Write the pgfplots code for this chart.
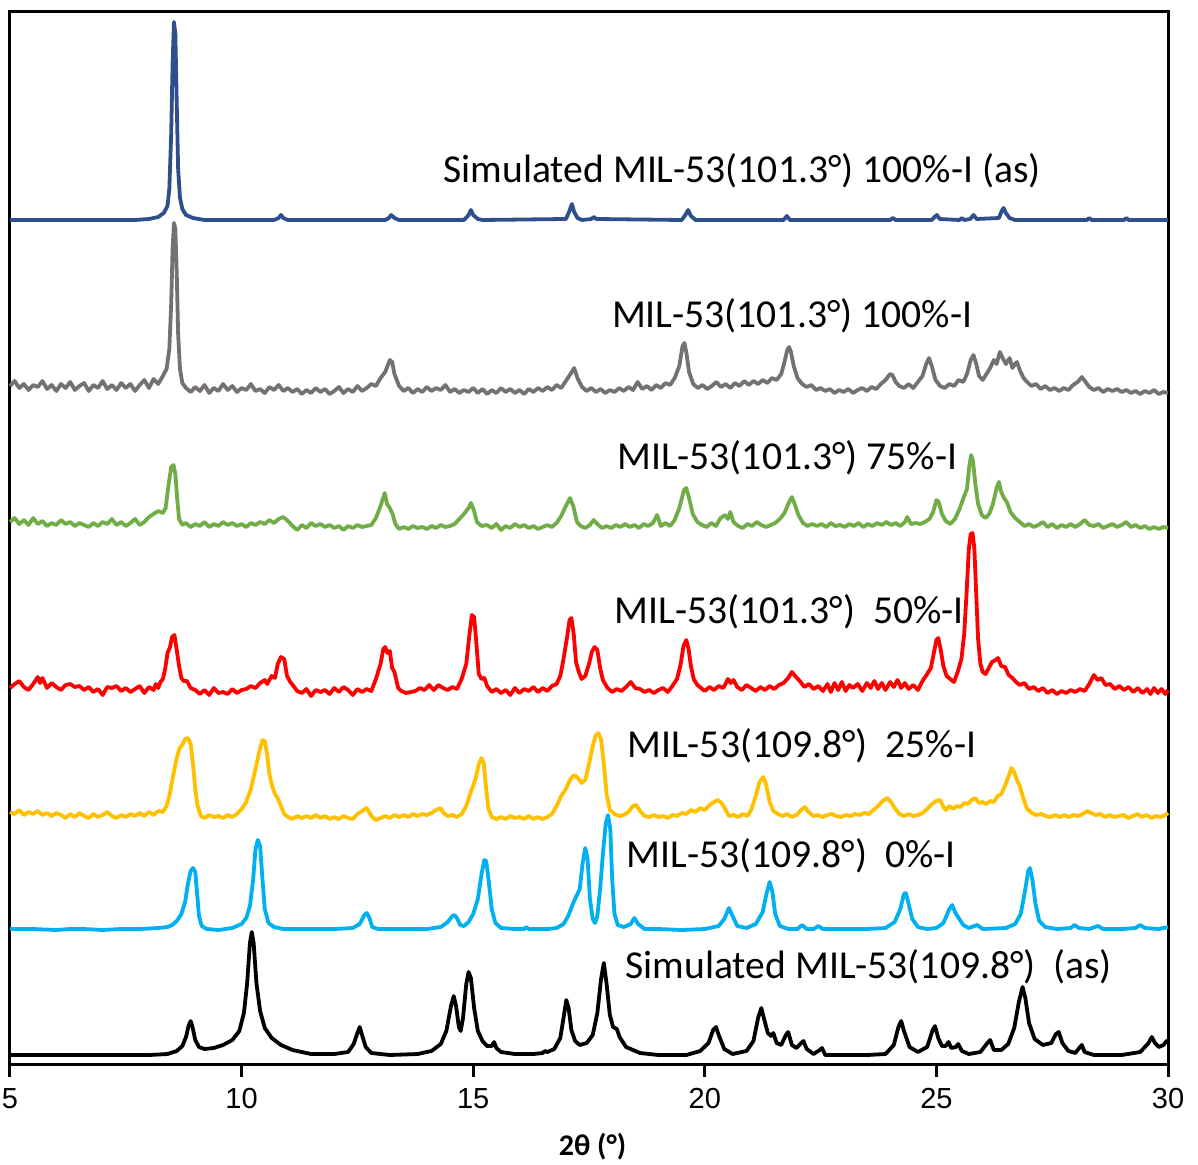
\documentclass[border=0pt]{standalone}
\usepackage{fontspec}
\setmainfont{Carlito}
\newfontfamily\tickfont{Liberation Sans}
\usepackage{pgfplots}
\pgfplotsset{compat=1.18}

\definecolor{simblue}{HTML}{2F4F8C}
\definecolor{expgrey}{HTML}{767171}
\definecolor{expgreen}{HTML}{70AD47}
\definecolor{expred}{HTML}{FF0000}
\definecolor{expyellow}{HTML}{FFC000}
\definecolor{expcyan}{HTML}{00B0F0}

\tikzset{label node/.style={anchor=base west, inner sep=0pt, font=\fontsize{19.8}{23}\selectfont}}

\begin{document}
\begin{tikzpicture}
\useasboundingbox (-5pt,-50pt) rectangle (594pt,532pt);
\begin{axis}[
  at={(0,0)}, anchor=south west,
  scale only axis, width=579pt, height=526pt,
  xmin=5, xmax=30, ymin=0, ymax=1052,
  xtick={5,10,15,20,25,30}, ytick=\empty,
  major tick length=0pt,
  axis line style={line width=1.5pt},
  clip=false,
  /pgf/number format/assume math mode=true,
  xticklabel style={font=\tickfont\fontsize{14.5}{17}\selectfont, anchor=base, inner sep=0pt, yshift=-22pt},
  xlabel={\bfseries 2θ (°)},
  xlabel style={font=\fontsize{15}{18}\selectfont, at={(axis description cs:0.503,0)}, anchor=base, yshift=-45.5pt},
  every axis plot/.append style={line width=1.9pt, line join=round, mark=none},
]

% outward tick marks on the 2theta axis
\pgfplotsinvokeforeach{5,10,15,20,25,30}{
  \draw[black, line width=1.5pt] (axis cs:#1,0) -- ([yshift=-6.5pt]axis cs:#1,0);
}

% Simulated MIL-53(101.3) 100%-I
\addplot[simblue] coordinates {
(5.0,844) (7.0,844) (7.7,844) (8.0,845) (8.2,847) (8.32,851) (8.4,858) (8.44,875) (8.48,930) (8.51,1000) (8.54,1042) (8.57,1030) (8.6,960) (8.63,895) (8.67,866) (8.72,855) (8.8,849) (8.95,846) (9.2,844)
(10.7,844) (10.8,846) (10.85,849) (10.9,846) (11.0,844) (13.1,844) (13.18,846) (13.23,849) (13.3,846) (13.4,844)
(14.8,844) (14.9,849) (14.95,854) (15.0,849) (15.1,845) (15.2,844) (17.0,845) (17.07,852) (17.13,860) (17.18,852) (17.25,846) (17.35,844)
(17.55,845) (17.6,847) (17.66,845) (19.5,844) (19.58,849) (19.64,854) (19.7,848) (19.8,844) (21.7,844) (21.77,848) (21.84,844)
(24.0,844) (24.06,846) (24.12,844) (24.9,844) (24.96,847) (25.01,849) (25.07,845) (25.5,844) (25.55,846) (25.6,844)
(25.73,845) (25.8,849) (25.87,845) (26.35,846) (26.41,853) (26.45,856) (26.5,851) (26.58,846) (26.7,844)
(28.25,844) (28.3,846) (28.35,844) (29.05,844) (29.1,846) (29.15,844) (30.0,844)
};

% MIL-53(101.3) 100%-I
\addplot[expgrey] coordinates {
(5.0,678) (5.1,683) (5.2,676) (5.3,680) (5.4,674) (5.5,679) (5.6,677) (5.7,683) (5.8,675) (5.9,679) (6.0,673) (6.1,680) (6.2,676) (6.3,682) (6.4,674) (6.5,678) (6.6,681) (6.7,673) (6.8,679) (6.9,676)
(7.0,683) (7.1,675) (7.2,679) (7.3,674) (7.4,681) (7.5,676) (7.6,680) (7.7,673) (7.8,679) (7.9,684) (8.0,676) (8.1,685) (8.2,680)
(8.3,688) (8.38,695) (8.44,715) (8.48,760) (8.51,815) (8.54,841) (8.57,835) (8.6,790) (8.63,730) (8.67,695) (8.72,681) (8.8,676) (8.9,672) (9.0,677)
(9.1,673) (9.2,679) (9.3,671) (9.4,676) (9.5,673) (9.6,680) (9.7,674) (9.8,678) (9.9,672) (10.0,676) (10.1,674) (10.2,680) (10.3,673) (10.4,675) (10.5,671) (10.6,677) (10.7,674) (10.8,679) (10.9,673)
(11.0,676) (11.1,672) (11.2,675) (11.3,670) (11.4,674) (11.5,671) (11.6,676) (11.7,672) (11.8,675) (11.9,670) (12.0,673) (12.1,677) (12.2,671) (12.3,675) (12.4,672) (12.5,678) (12.6,673) (12.7,676) (12.8,680) (12.9,678)
(13.0,686) (13.1,692) (13.2,704) (13.25,702) (13.3,690) (13.4,678) (13.5,673) (13.6,676) (13.7,671) (13.8,675) (13.9,672) (14.0,677) (14.1,673) (14.2,676) (14.3,674) (14.4,679) (14.5,672) (14.6,675) (14.7,671) (14.8,674) (14.9,672)
(15.0,676) (15.1,671) (15.2,675) (15.3,670) (15.4,674) (15.5,671) (15.6,676) (15.7,672) (15.8,675) (15.9,671) (16.0,674) (16.1,670) (16.2,675) (16.3,672) (16.4,676) (16.5,673) (16.6,677) (16.7,674) (16.8,679) (16.9,676)
(17.0,683) (17.1,690) (17.18,696) (17.25,686) (17.35,677) (17.45,673) (17.55,676) (17.65,672) (17.75,675) (17.85,671) (17.95,674) (18.05,672) (18.15,676) (18.25,673) (18.35,677) (18.45,674) (18.55,682) (18.65,675) (18.75,678) (18.85,674) (18.95,679)
(19.05,676) (19.15,681) (19.25,679) (19.35,686) (19.45,698) (19.52,718) (19.56,721) (19.6,712) (19.66,692) (19.75,680) (19.85,676) (19.95,679) (20.05,675) (20.15,678) (20.25,682) (20.35,677) (20.45,680) (20.55,676) (20.65,681) (20.75,678) (20.85,683) (20.95,679)
(21.05,683) (21.15,680) (21.25,684) (21.35,681) (21.45,686) (21.55,684) (21.65,690) (21.72,702) (21.78,714) (21.82,717) (21.86,712) (21.92,698) (22.0,686) (22.1,680) (22.2,677) (22.3,679) (22.4,674) (22.5,676) (22.6,673) (22.7,675) (22.8,671) (22.9,674)
(23.0,672) (23.1,675) (23.2,671) (23.3,674) (23.4,676) (23.5,673) (23.6,677) (23.7,675) (23.8,680) (23.9,684) (24.0,690) (24.05,689) (24.12,682) (24.2,678) (24.3,676) (24.4,680) (24.5,676) (24.6,682) (24.7,688) (24.78,700) (24.84,706) (24.9,698) (24.98,684)
(25.08,678) (25.18,676) (25.28,680) (25.38,678) (25.48,684) (25.58,682) (25.66,690) (25.74,704) (25.8,709) (25.86,700) (25.92,688) (26.0,684) (26.08,690) (26.16,696) (26.24,704) (26.3,700) (26.37,712) (26.43,706) (26.5,700) (26.58,706) (26.64,696) (26.7,700) (26.74,702) (26.8,694) (26.88,686) (26.96,682)
(27.05,678) (27.15,680) (27.25,675) (27.35,678) (27.45,674) (27.55,676) (27.65,673) (27.75,676) (27.85,674) (27.95,679) (28.05,682) (28.14,687) (28.22,682) (28.3,677) (28.4,674) (28.5,676) (28.6,672) (28.7,675) (28.8,673) (28.9,675)
(29.0,672) (29.1,674) (29.2,671) (29.3,673) (29.4,670) (29.5,673) (29.6,671) (29.7,674) (29.8,670) (29.9,672) (30.0,671)
};

% MIL-53(101.3) 75%-I
\addplot[expgreen] coordinates {
(5.0,542) (5.1,546) (5.2,540) (5.3,544) (5.4,539) (5.5,546) (5.6,540) (5.7,543) (5.8,538) (5.9,541) (6.0,539) (6.1,544) (6.2,540) (6.3,542) (6.4,538) (6.5,541) (6.6,539) (6.7,537) (6.8,541) (6.9,538)
(7.0,542) (7.1,540) (7.2,545) (7.3,539) (7.4,542) (7.5,538) (7.6,541) (7.7,545) (7.8,539) (7.9,542) (8.0,547) (8.1,550) (8.2,553) (8.3,551) (8.36,556) (8.42,578) (8.48,597) (8.53,599) (8.57,590) (8.61,565) (8.65,545) (8.72,539) (8.8,541) (8.9,537)
(9.0,540) (9.1,538) (9.2,542) (9.3,537) (9.4,540) (9.5,538) (9.6,542) (9.7,539) (9.8,541) (9.9,538) (10.0,540) (10.1,537) (10.2,541) (10.3,539) (10.4,542) (10.5,540) (10.6,544) (10.7,541) (10.8,545) (10.9,547)
(11.0,543) (11.1,538) (11.2,534) (11.3,539) (11.4,536) (11.5,541) (11.6,538) (11.7,540) (11.8,537) (11.9,539) (12.0,536) (12.1,538) (12.2,534) (12.3,538) (12.4,536) (12.5,539) (12.6,537) (12.7,538) (12.8,539) (12.9,546)
(13.0,558) (13.09,571) (13.14,560) (13.2,556) (13.26,550) (13.32,540) (13.4,535) (13.5,537) (13.6,535) (13.7,538) (13.8,536) (13.9,537) (14.0,535) (14.1,538) (14.2,536) (14.3,539) (14.4,537) (14.5,538) (14.6,540) (14.7,545) (14.8,550) (14.9,556) (14.95,561)
(15.02,553) (15.08,542) (15.18,538) (15.3,539) (15.4,536) (15.5,540) (15.6,534) (15.7,538) (15.8,536) (15.9,540) (16.0,537) (16.1,539) (16.2,536) (16.3,538) (16.4,535) (16.5,537) (16.6,539) (16.7,537) (16.8,541) (16.9,548)
(17.0,558) (17.09,566) (17.16,558) (17.24,542) (17.32,538) (17.42,536) (17.52,539) (17.6,544) (17.68,540) (17.78,536) (17.88,538) (17.98,536) (18.08,539) (18.18,537) (18.28,540) (18.38,537) (18.48,539) (18.58,536) (18.68,540) (18.78,538) (18.88,541) (18.97,549)
(19.05,538) (19.15,541) (19.25,538) (19.35,544) (19.45,556) (19.55,574) (19.6,576) (19.66,566) (19.74,550) (19.84,542) (19.94,539) (20.04,537) (20.14,541) (20.24,538) (20.34,546) (20.44,549) (20.5,545) (20.55,552) (20.62,542) (20.72,538) (20.82,536) (20.92,540)
(21.02,538) (21.12,542) (21.22,539) (21.32,537) (21.42,539) (21.52,541) (21.62,545) (21.72,551) (21.82,562) (21.88,567) (21.94,560) (22.02,549) (22.12,541) (22.22,538) (22.32,540) (22.42,538) (22.52,540) (22.62,537) (22.72,541) (22.82,538) (22.92,539)
(23.02,537) (23.12,540) (23.22,538) (23.32,541) (23.42,537) (23.52,540) (23.62,538) (23.72,541) (23.82,539) (23.92,542) (24.02,539) (24.12,541) (24.22,538) (24.32,542) (24.37,547) (24.45,540) (24.55,541) (24.65,540) (24.75,542) (24.85,545) (24.93,552)
(25.0,564) (25.05,562) (25.12,550) (25.2,543) (25.3,540) (25.4,545) (25.5,555) (25.6,568) (25.66,575) (25.71,598) (25.75,609) (25.79,603) (25.84,580) (25.9,560) (25.98,549) (26.06,546) (26.14,550) (26.22,560) (26.3,576) (26.35,582) (26.4,572) (26.46,566) (26.52,562) (26.6,552) (26.7,546) (26.8,542) (26.9,538)
(27.0,540) (27.1,537) (27.2,539) (27.3,542) (27.4,537) (27.5,540) (27.6,536) (27.7,539) (27.8,537) (27.9,540) (28.0,537) (28.1,540) (28.2,544) (28.3,539) (28.4,538) (28.5,540) (28.6,536) (28.7,538) (28.8,540) (28.9,537)
(29.0,539) (29.1,542) (29.2,537) (29.3,539) (29.4,536) (29.5,538) (29.6,535) (29.7,537) (29.8,535) (29.9,537) (30.0,536)
};

% MIL-53(101.3) 50%-I
\addplot[expred] coordinates {
(5.0,376) (5.1,380) (5.2,383) (5.3,377) (5.4,374) (5.5,380) (5.6,387) (5.65,381) (5.7,386) (5.8,376) (5.9,381) (6.0,377) (6.1,374) (6.2,379) (6.3,380) (6.4,377) (6.5,378) (6.6,374) (6.7,377) (6.8,372) (6.9,375)
(7.0,369) (7.1,377) (7.2,376) (7.3,378) (7.4,373) (7.5,376) (7.6,372) (7.7,375) (7.8,378) (7.9,371) (8.0,377) (8.1,374) (8.15,380) (8.2,376) (8.25,382) (8.3,385) (8.35,395) (8.4,411) (8.45,416) (8.5,427) (8.55,429) (8.6,414) (8.65,398) (8.7,386) (8.75,383) (8.82,383) (8.9,376)
(9.0,374) (9.1,370) (9.2,374) (9.3,369) (9.4,376) (9.5,371) (9.6,372) (9.7,370) (9.8,375) (9.9,371) (10.0,374) (10.1,375) (10.2,378) (10.3,376) (10.4,381) (10.5,384) (10.55,380) (10.65,388) (10.72,386) (10.78,400) (10.85,407) (10.92,405) (10.98,388)
(11.05,382) (11.12,378) (11.2,373) (11.3,371) (11.4,375) (11.5,368) (11.6,374) (11.7,372) (11.8,374) (11.9,370) (12.0,376) (12.1,372) (12.2,377) (12.3,374) (12.4,369) (12.5,375) (12.6,372) (12.7,375) (12.8,373) (12.9,385)
(13.0,400) (13.06,415) (13.1,417) (13.15,411) (13.2,413) (13.25,396) (13.3,392) (13.38,376) (13.45,373) (13.55,371) (13.65,372) (13.75,373) (13.85,376) (13.95,374) (14.05,379) (14.15,374) (14.25,379) (14.35,376) (14.45,374) (14.55,377) (14.65,375) (14.75,385) (14.85,400) (14.92,430) (14.97,449)
(15.02,447) (15.07,420) (15.12,390) (15.18,385) (15.24,386) (15.3,378) (15.4,372) (15.5,375) (15.6,371) (15.7,374) (15.8,369) (15.9,376) (16.0,371) (16.1,375) (16.2,373) (16.3,377) (16.4,372) (16.5,376) (16.6,373) (16.7,378) (16.8,380) (16.88,388) (16.95,405)
(17.02,425) (17.08,444) (17.12,446) (17.17,430) (17.22,402) (17.28,392) (17.34,385) (17.42,388) (17.5,400) (17.56,412) (17.62,417) (17.68,414) (17.74,396) (17.8,384) (17.9,376) (18.0,372) (18.1,375) (18.2,373) (18.3,377) (18.4,382) (18.5,376) (18.6,375) (18.7,372) (18.8,374) (18.9,371)
(19.0,374) (19.1,376) (19.2,372) (19.3,378) (19.4,385) (19.48,400) (19.54,418) (19.6,424) (19.65,415) (19.7,398) (19.76,385) (19.84,379) (19.92,376) (20.0,373) (20.1,377) (20.2,374) (20.3,378) (20.4,376) (20.5,385) (20.56,381) (20.62,384) (20.7,377) (20.8,374) (20.9,379)
(21.0,376) (21.1,373) (21.2,377) (21.3,374) (21.4,378) (21.5,375) (21.6,379) (21.7,381) (21.8,386) (21.88,392) (21.95,388) (22.05,383) (22.15,377) (22.25,380) (22.35,375) (22.45,378) (22.55,373) (22.65,380) (22.72,372) (22.8,381) (22.88,374) (22.96,382)
(23.04,373) (23.12,379) (23.2,376) (23.3,380) (23.4,373) (23.5,381) (23.58,376) (23.66,383) (23.74,375) (23.82,381) (23.9,374) (24.0,382) (24.08,377) (24.16,384) (24.24,376) (24.32,381) (24.4,375) (24.5,379) (24.6,374) (24.7,383) (24.8,390) (24.88,396) (24.94,410)
(25.0,424) (25.04,426) (25.09,415) (25.15,398) (25.22,388) (25.3,385) (25.38,382) (25.46,392) (25.54,405) (25.6,430) (25.65,470) (25.7,515) (25.74,530) (25.78,531) (25.82,515) (25.86,470) (25.9,425) (25.95,400)
(26.0,392) (26.06,390) (26.12,395) (26.2,402) (26.28,404) (26.33,406) (26.4,398) (26.48,397) (26.56,389) (26.64,386) (26.72,382) (26.8,379) (26.9,381) (27.0,375) (27.1,377) (27.2,373) (27.3,376) (27.4,371) (27.5,374) (27.6,370) (27.7,373) (27.8,371) (27.9,374)
(28.0,372) (28.1,375) (28.2,373) (28.3,380) (28.4,389) (28.48,384) (28.56,386) (28.65,379) (28.75,380) (28.85,375) (28.95,378) (29.05,374) (29.15,377) (29.25,372) (29.35,376) (29.45,371) (29.55,375) (29.62,370) (29.7,376) (29.78,371) (29.86,375) (29.94,370) (30.0,374)
};

% MIL-53(109.8) 25%-I
\addplot[expyellow] coordinates {
(5.0,252) (5.1,250) (5.2,254) (5.3,249) (5.4,252) (5.5,250) (5.6,253) (5.7,249) (5.8,251) (5.9,248) (6.0,251) (6.1,249) (6.2,246) (6.3,250) (6.4,247) (6.5,251) (6.6,248) (6.7,246) (6.8,250) (6.9,247)
(7.0,249) (7.1,252) (7.2,248) (7.3,246) (7.4,249) (7.5,247) (7.6,250) (7.7,248) (7.8,251) (7.9,248) (8.0,252) (8.1,249) (8.2,253) (8.3,252) (8.38,258) (8.45,270) (8.52,288) (8.6,306) (8.66,316) (8.72,319) (8.78,325) (8.84,326) (8.9,320) (8.95,300)
(9.0,275) (9.05,258) (9.12,248) (9.2,246) (9.3,249) (9.4,247) (9.5,248) (9.6,246) (9.7,249) (9.8,247) (9.9,250) (10.0,255) (10.1,262) (10.2,275) (10.3,295) (10.38,312) (10.45,324) (10.5,323) (10.55,310) (10.6,290) (10.66,278) (10.72,270) (10.78,266) (10.85,258) (10.92,250)
(11.0,247) (11.1,245) (11.2,248) (11.3,246) (11.4,248) (11.5,246) (11.6,249) (11.7,246) (11.8,248) (11.9,245) (12.0,247) (12.1,245) (12.2,248) (12.3,246) (12.4,245) (12.5,250) (12.6,253) (12.7,256) (12.75,252) (12.82,247) (12.9,244)
(13.0,246) (13.1,248) (13.2,246) (13.3,249) (13.4,247) (13.5,249) (13.6,247) (13.7,250) (13.8,248) (13.9,250) (14.0,249) (14.1,251) (14.2,254) (14.29,256) (14.36,251) (14.45,248) (14.55,249) (14.65,247) (14.75,250) (14.85,258) (14.95,272)
(15.05,285) (15.12,300) (15.18,306) (15.23,300) (15.28,275) (15.33,255) (15.4,247) (15.5,245) (15.6,247) (15.7,245) (15.8,248) (15.9,246) (16.0,247) (16.1,245) (16.2,248) (16.3,245) (16.4,247) (16.5,245) (16.6,247) (16.7,250) (16.8,258) (16.9,268)
(17.0,275) (17.1,285) (17.18,289) (17.26,286) (17.34,281) (17.42,284) (17.5,300) (17.58,318) (17.64,328) (17.7,331) (17.76,325) (17.82,300) (17.88,270) (17.95,254) (18.05,250) (18.15,248) (18.25,249) (18.35,252) (18.45,258) (18.52,259) (18.6,253) (18.7,248) (18.8,247) (18.9,249)
(19.0,247) (19.1,248) (19.2,246) (19.3,249) (19.4,248) (19.5,251) (19.6,250) (19.7,254) (19.8,252) (19.9,256) (20.0,254) (20.1,259) (20.2,262) (20.28,264) (20.36,261) (20.44,255) (20.52,248) (20.62,249) (20.72,247) (20.82,250) (20.92,248)
(21.0,254) (21.1,268) (21.18,282) (21.26,287) (21.32,280) (21.4,262) (21.48,253) (21.58,250) (21.68,248) (21.78,250) (21.88,247) (21.98,249) (22.08,254) (22.16,257) (22.24,252) (22.34,248) (22.44,249) (22.54,247) (22.64,249) (22.74,250) (22.84,248) (22.94,247)
(23.04,249) (23.14,248) (23.24,250) (23.34,249) (23.44,251) (23.54,250) (23.64,254) (23.74,258) (23.84,263) (23.94,266) (24.02,262) (24.1,256) (24.2,250) (24.3,248) (24.4,250) (24.5,248) (24.6,249) (24.7,251) (24.8,255) (24.9,260)
(25.0,263) (25.08,264) (25.14,258) (25.2,254) (25.28,258) (25.36,255) (25.44,258) (25.52,257) (25.6,261) (25.68,260) (25.76,264) (25.84,266) (25.92,261) (26.0,262) (26.08,260) (26.16,263) (26.24,262) (26.32,268) (26.4,270) (26.48,278) (26.56,288) (26.62,296) (26.68,292) (26.74,284) (26.8,278) (26.88,265) (26.96,255)
(27.06,251) (27.16,249) (27.26,250) (27.36,248) (27.46,247) (27.56,249) (27.66,247) (27.76,249) (27.86,247) (27.96,249) (28.06,248) (28.16,250) (28.26,253) (28.34,251) (28.44,249) (28.54,250) (28.64,247) (28.74,249) (28.84,247) (28.94,248)
(29.04,249) (29.14,246) (29.24,248) (29.34,250) (29.44,247) (29.54,249) (29.64,246) (29.74,248) (29.84,247) (29.94,249) (30.0,251)
};

% MIL-53(109.8) 0%-I
\addplot[expcyan] coordinates {
(5.0,135) (5.5,135) (6.0,134) (6.3,135) (6.6,135) (7.0,134) (7.4,135) (7.8,135) (8.2,136) (8.4,137) (8.5,139) (8.6,143) (8.7,150) (8.78,162) (8.84,180) (8.9,193) (8.95,196) (9.0,192) (9.04,170) (9.08,148) (9.14,138) (9.25,135) (9.5,134) (9.8,136)
(10.0,140) (10.1,146) (10.18,158) (10.25,185) (10.3,215) (10.35,224) (10.4,218) (10.45,185) (10.5,155) (10.58,141) (10.7,137) (10.9,135) (11.5,135) (12.0,135) (12.4,136) (12.55,140) (12.65,149) (12.7,151) (12.76,146) (12.82,137) (12.95,135)
(13.5,135) (14.0,135) (14.3,137) (14.45,142) (14.55,148) (14.6,149) (14.66,145) (14.72,139) (14.8,138) (14.9,142) (15.0,150) (15.1,165) (15.18,190) (15.24,204) (15.28,203) (15.33,185) (15.4,155) (15.48,141) (15.6,136) (15.9,135) (16.1,135) (16.14,137) (16.2,135) (16.6,135)
(16.8,136) (16.95,140) (17.05,148) (17.15,160) (17.22,167) (17.3,175) (17.36,200) (17.42,216) (17.47,205) (17.52,165) (17.58,145) (17.63,141) (17.68,148) (17.74,175) (17.8,210) (17.86,240) (17.91,249) (17.96,235) (18.0,185) (18.05,150) (18.12,139) (18.25,137) (18.4,140) (18.48,146) (18.56,140) (18.7,135)
(19.0,135) (19.5,134) (20.0,135) (20.3,138) (20.42,145) (20.52,156) (20.6,148) (20.7,138) (20.9,136) (21.1,140) (21.25,152) (21.33,170) (21.4,182) (21.46,172) (21.52,150) (21.62,138) (21.8,135) (22.0,135) (22.1,139) (22.2,135) (22.35,135) (22.45,138) (22.55,135)
(23.0,135) (23.5,135) (23.9,136) (24.1,142) (24.22,155) (24.3,170) (24.34,171) (24.4,160) (24.48,145) (24.6,137) (24.8,135) (25.0,136) (25.15,141) (25.28,155) (25.34,159) (25.4,152) (25.48,146) (25.58,139) (25.7,136) (25.88,139) (26.0,135)
(26.5,136) (26.7,140) (26.82,150) (26.92,175) (26.98,193) (27.02,196) (27.07,185) (27.14,160) (27.22,143) (27.35,137) (27.6,135) (27.9,136) (27.98,139) (28.08,136) (28.3,135) (28.49,138) (28.6,135) (29.0,135) (29.3,136) (29.4,139) (29.5,136) (29.8,135) (30.0,137)
};

% Simulated MIL-53(109.8)
\addplot[black] coordinates {
(5.0,9) (7.0,9) (8.0,9) (8.4,10) (8.6,13) (8.72,18) (8.8,27) (8.86,39) (8.9,43) (8.94,37) (9.0,24) (9.08,17) (9.2,15) (9.4,16) (9.6,19) (9.8,24) (9.95,33) (10.05,51) (10.12,81) (10.18,121) (10.22,132) (10.26,121) (10.32,81) (10.4,53) (10.5,36) (10.65,26) (10.85,19)
(11.1,14) (11.5,10) (12.0,10) (12.3,12) (12.42,20) (12.5,31) (12.55,37) (12.6,29) (12.68,17) (12.8,11) (13.2,9) (13.8,10) (14.1,13) (14.3,20) (14.42,33) (14.52,58) (14.58,68) (14.63,58) (14.69,37) (14.73,33) (14.78,46) (14.85,80) (14.9,92) (14.95,86)
(15.02,56) (15.1,33) (15.2,23) (15.3,18) (15.4,18) (15.45,22) (15.5,16) (15.6,12) (15.9,10) (16.3,10) (16.5,11) (16.55,13) (16.6,12) (16.75,15) (16.88,26) (16.95,46) (17.01,64) (17.06,56) (17.12,34) (17.2,23) (17.3,19) (17.45,21) (17.58,29) (17.68,51) (17.76,85) (17.82,101) (17.88,80) (17.95,49)
(18.02,37) (18.1,35) (18.16,27) (18.3,17) (18.6,11) (19.0,9) (19.6,9) (19.9,13) (20.08,21) (20.18,34) (20.24,37) (20.3,29) (20.42,15) (20.6,10) (20.9,13) (21.05,23) (21.15,46) (21.22,56) (21.28,45) (21.36,31) (21.43,28) (21.48,31) (21.55,21) (21.65,19) (21.75,29) (21.8,32) (21.88,19) (21.98,16)
(22.08,21) (22.13,23) (22.2,15) (22.35,10) (22.48,14) (22.53,16) (22.6,9) (22.9,9) (23.5,9) (23.9,10) (24.08,19) (24.18,37) (24.24,43) (24.3,33) (24.42,17) (24.6,12) (24.8,17) (24.92,34) (24.97,38) (25.04,26) (25.12,18) (25.2,18) (25.26,22) (25.32,16) (25.42,17) (25.47,20) (25.55,13) (25.7,10) (25.95,12)
(26.1,21) (26.16,24) (26.24,14) (26.4,14) (26.55,20) (26.68,36) (26.78,62) (26.86,77) (26.92,66) (27.0,41) (27.12,25) (27.3,19) (27.48,21) (27.58,30) (27.64,32) (27.72,21) (27.85,13) (28.0,11) (28.1,17) (28.14,19) (28.2,12) (28.4,9) (29.0,9) (29.4,12) (29.58,21) (29.65,27) (29.72,21) (29.8,17) (29.9,19) (29.97,23) (30.0,21)
};

\node[label node] at (axis cs:14.35,881) {Simulated MIL-53(101.3°) 100\%-I (as)};
\node[label node] at (axis cs:17.99,737) {MIL-53(101.3°) 100\%-I};
\node[label node] at (axis cs:18.10,595) {MIL-53(101.3°) 75\%-I};
\node[label node] at (axis cs:18.05,441) {MIL-53(101.3°)~ 50\%-I};
\node[label node] at (axis cs:18.32,307) {MIL-53(109.8°)~ 25\%-I};
\node[label node] at (axis cs:18.31,197) {MIL-53(109.8°)~ 0\%-I};
\node[label node] at (axis cs:18.28,86) {Simulated MIL-53(109.8°)~ (as)};
\end{axis}
\end{tikzpicture}
\end{document}
